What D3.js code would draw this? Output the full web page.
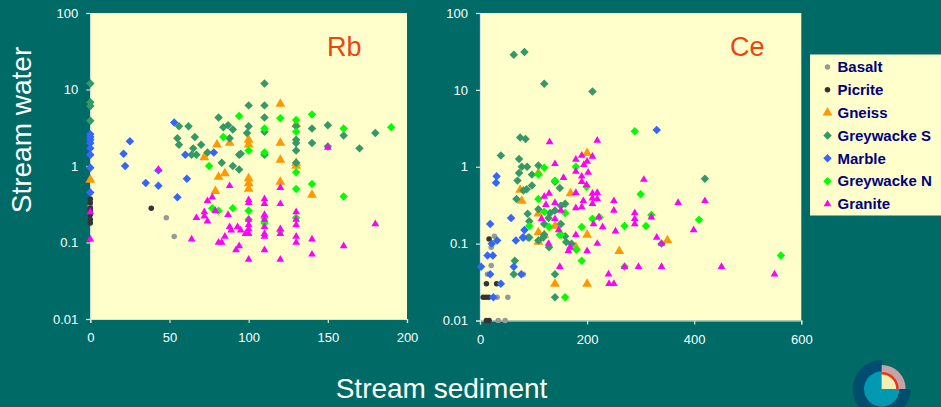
<!DOCTYPE html>
<html>
<head>
<meta charset="utf-8">
<script src="https://cdn.jsdelivr.net/npm/d3@7"></script>
<style>
html, body { margin: 0; padding: 0; background: #006b66; overflow: hidden; }
text { font-family: "Liberation Sans", Arial, sans-serif; }
</style>
</head>
<body>
<svg id="chart" width="941" height="407"></svg>
<script>
// Values, [stream sediment, stream water]
var rb_basalt = [[0,0.3],[48,0.21],[53,0.12]];
var rb_picrite = [[0,0.37],[0,0.33],[0,0.28],[0,0.26],[0,0.23],[0,0.2],[0,0.18],[38.5,0.28]];
var rb_gneiss = [[0,0.66],[72,1.3],[79,0.47],[80,1.9],[81,0.72],[85,0.8],[88,2],[100,2.2],[100,1.9],[100,0.69],[100,0.59],[100,0.5],
    [120,6.5],[120,2],[120,1.2],[120,0.62],[130,3.5],[130,1.1],[130,1],[140,0.42]];
var rb_greywacke_s = [[0,12],[0,6.8],[0,6.1],[0,3.9],[55,2.3],[56,3.3],[56,1.9],[62,3.3],[64,1.4],[65,1.7],[66,2.4],[67,1.4],[70,1.9],[74,1.5],
    [81,4.3],[83,1.1],[84,3.2],[87,3.4],[88,2.3],[90,3],[90,1],[94,1.4],[94,0.9],[95,1.45],[99,2.7],[100,6.2],[100,3.3],
    [110,12],[110,6.2],[110,4.3],[110,2.8],[110,1.4],[130,3.3],[130,2.2],[130,2],[130,1.6],[130,1.1],[140,3.1],[140,2],
    [150,3.4],[150,1.8],[160,2.5],[170,1.7],[180,2.7]];
var rb_marble = [[0,2.6],[0,2.4],[0,2.2],[0,2],[0,1.7],[0,1.4],[0,0.95],[0,0.45],[21,1.45],[22,1],[25,2.1],[35,0.6],[43,0.88],[43,0.55],
    [53,3.7],[55,0.39],[60,1.4],[61,0.68],[78,1.5]];
var rb_greywacke_n = [[75,1],[77,0.28],[81,0.26],[84,2.4],[90,0.28],[94,4.5],[100,1.6],[100,0.26],[100,0.2],[110,3.1],[110,1.5],[110,0.21],[110,0.18],
    [120,4.2],[120,0.14],[130,4],[130,2.8],[130,0.83],[130,0.5],[130,0.21],[140,4.7],[140,0.58],[160,3.1],[160,0.4],[190,3.2]];
var rb_granite = [[0,0.25],[0,0.11],[43,0.9],[64,0.11],[67,0.21],[72,0.25],[72,0.22],[74,0.35],[74,0.19],[77,0.39],[79,0.26],[81,0.1],[83,0.1],
    [85,0.12],[87,0.23],[88,0.55],[88,0.16],[89,0.145],[92,0.08],[93,0.16],[94,0.09],[95,0.145],[98,0.13],
    [100,0.36],[100,0.33],[100,0.2],[100,0.17],[100,0.15],[100,0.13],[100,0.06],[110,0.37],[110,0.32],[110,0.23],[110,0.2],[110,0.16],[110,0.13],[110,0.12],[110,0.08],
    [120,0.52],[120,0.32],[120,0.15],[120,0.13],[120,0.06],[130,0.25],[130,0.2],[130,0.17],[130,0.12],[130,0.1],[140,0.11],[140,0.07],[150,1.75],[160,0.09],[180,0.175]];

var ce_basalt = [[14,0.04],[21,0.09],[21,0.052],[27,0.125],[32,0.02],[34,0.01],[47,0.01],[52,0.02],[81,0.04]];
var ce_picrite = [[6,0.02],[11,0.02],[12,0.03],[12,0.01],[16,0.02],[17,0.115],[17,0.01],[31,0.03]];
var ce_gneiss = [[75,0.5],[78,0.36],[109,0.83],[109,0.245],[109,0.14],[109,0.105],[120,0.13],[140,0.17],[140,0.03],[169,0.45],[179,0.09],[200,1.5],[200,0.13],[200,0.03],[260,0.08],[350,0.11]];
var ce_greywacke_s = [[63,28.6],[83,31],[120,12],[210,9.5],[75,2.4],[85,2.3],[39,1.4],[73,1.26],[88,1],[78,1],[109,1.04],[73,0.83],[70,0.66],[97,0.79],[97,0.57],
    [87,0.51],[81,0.49],[68,0.38],[149,0.53],[140,0.64],[89,0.245],[109,0.28],[159,0.33],[151,0.31],[140,0.27],[131,0.25],[128,0.215],[92,0.195],[151,0.18],[120,0.18],
    [92,0.12],[118,0.12],[159,0.125],[65,0.06],[63,0.04],[140,0.04],[140,0.02],[129,0.09],[90,0.12],[120,0.13],[109,0.11],[161,0.105],[171,0.1],[339,0.1],[420,0.7]];
var ce_marble = [[2,0.05],[14,0.07],[19,0.18],[19,0.04],[22,0.1],[24,0.07],[25,0.02],[30,0.62],[31,0.75],[32,0.11],[39,0.03],[58,0.215],[63,0.05],[67,0.11],[77,0.04],[80,0.12],[81,0.12],[83,0.15],[330,3]];
var ce_greywacke_n = [[92,0.17],[109,0.79],[109,0.38],[120,0.97],[120,0.26],[129,0.165],[140,0.66],[149,0.13],[151,0.13],[159,0.25],[159,0.02],[179,1],[180,0.083],[190,0.165],[190,0.06],[199,0.55],
    [210,0.21],[223,0.22],[270,0.17],[270,0.05],[289,2.9],[300,0.44],[310,0.17],[320,0.235],[409,0.205],[562,0.07]];
var ce_granite = [[115,0.21],[120,0.41],[123,0.32],[128,0.1],[129,0.45],[130,2.1],[140,1.09],[140,0.34],[140,0.21],[147,0.15],[149,0.05],[151,0.27],[156,0.72],[165,0.08],[168,0.09],
    [179,1.24],[179,0.87],[179,0.46],[179,0.29],[179,0.13],[190,1.4],[190,0.75],[190,0.64],[190,0.3],[193,0.36],[194,1.06],[199,0.58],[200,1.17],[200,0.08],[202,0.84],[210,1.36],[210,0.45],[210,0.39],[210,0.33],[212,0.18],
    [219,2.2],[219,0.46],[219,0.38],[219,0.1],[222,0.22],[229,0.165],[240,0.04],[241,0.03],[250,0.36],[250,0.27],[250,0.03],[253,0.145],[270,0.05],[289,0.25],[289,0.21],[289,0.18],[296,0.05],[306,0.68],[320,0.22],[330,0.12],[339,0.1],[339,0.05],[370,0.34],[399,0.15],[420,0.36],[451,0.05],[550,0.04]];

var series_names = ['Basalt', 'Picrite', 'Gneiss', 'Greywacke S', 'Marble', 'Greywacke N', 'Granite'];
var series_colors = ['#999999', '#333333', '#ff9900', '#339966', '#3366ff', '#00ff00', '#ff00ff'];
var series_shapes = ['circle', 'circle', 'triangle', 'diamond', 'diamond', 'diamond', 'small_triangle'];
var rb_series = [rb_basalt, rb_picrite, rb_gneiss, rb_greywacke_s, rb_marble, rb_greywacke_n, rb_granite];
var ce_series = [ce_basalt, ce_picrite, ce_gneiss, ce_greywacke_s, ce_marble, ce_greywacke_n, ce_granite];
var y_ticks = [0.01, 0.1, 1, 10, 100];
var rb_x_ticks = [0, 50, 100, 150, 200];
var ce_x_ticks = [0, 200, 400, 600];

var svg = d3.select('#chart');

function shape_path(shape) {
    var types = { circle: d3.symbolCircle, triangle: d3.symbolTriangle, small_triangle: d3.symbolTriangle, diamond: d3.symbolSquare };
    var sizes = { circle: 24, triangle: 42, small_triangle: 26, diamond: 36 };
    return d3.symbol().type(types[shape]).size(sizes[shape])();
}

function draw_marks(group, shape, color, x, y) {
    group.attr('d', shape_path(shape))
        .attr('fill', color)
        .attr('transform', function (d) {
            var rotate = shape === 'diamond' ? ' rotate(45)' : '';
            return 'translate(' + x(d[0]) + ',' + y(d[1]) + ')' + rotate;
        });
}

function draw_panel(left, right, top, bottom, x_max, x_ticks, series, title, title_x) {
    var x = d3.scaleLinear().domain([0, x_max]).range([left, right]);
    var y = d3.scaleLog().domain([0.01, 100]).range([bottom, top]);

    svg.append('rect')
        .attr('x', left).attr('y', top)
        .attr('width', right - left).attr('height', bottom - top)
        .attr('fill', '#ffffcc');

    var x_axis = svg.append('g')
        .attr('transform', 'translate(0,' + bottom + ')')
        .call(d3.axisBottom(x).tickValues(x_ticks).tickFormat(d3.format('d')).tickSize(4).tickPadding(10));
    var y_axis = svg.append('g')
        .attr('transform', 'translate(' + left + ',0)')
        .call(d3.axisLeft(y).tickValues(y_ticks).tickFormat(function (d) { return String(d); }).tickSize(4).tickPadding(8));

    [x_axis, y_axis].forEach(function (axis) {
        axis.selectAll('.domain, .tick line').attr('stroke', '#d8e4dc').attr('stroke-width', 1.2);
        axis.selectAll('text').attr('fill', '#ffffff').style('font-size', '13px').style('font-family', '"Liberation Sans", Arial, sans-serif');
    });

    series.forEach(function (points, i) {
        svg.append('g').selectAll('path').data(points).enter().append('path')
            .call(draw_marks, series_shapes[i], series_colors[i], x, y);
    });

    svg.append('text')
        .attr('x', title_x).attr('y', 56)
        .attr('fill', '#ee4411')
        .style('font-size', '27px')
        .text(title);
}

draw_panel(90.3, 407, 13, 319, 200, rb_x_ticks, rb_series, 'Rb', 327);
draw_panel(480, 801.3, 13, 320.5, 600, ce_x_ticks, ce_series, 'Ce', 730);

// Shared axis titles
svg.append('text')
    .attr('transform', 'translate(31,130) rotate(-90)')
    .attr('text-anchor', 'middle')
    .attr('fill', '#ffffff')
    .style('font-size', '28px')
    .text('Stream water');
svg.append('text')
    .attr('x', 441.5).attr('y', 398)
    .attr('text-anchor', 'middle')
    .attr('fill', '#ffffff')
    .style('font-size', '28px')
    .text('Stream sediment');

// Legend
svg.append('rect')
    .attr('x', 810).attr('y', 54.5)
    .attr('width', 131).attr('height', 161)
    .attr('fill', '#ffffcc');
var legend_y = d3.scalePoint().domain(series_names).range([67, 204]);
var legend = svg.append('g').selectAll('g').data(series_names).enter().append('g')
    .attr('transform', function (d) { return 'translate(0,' + legend_y(d) + ')'; });
legend.append('path')
    .attr('d', function (d, i) { return shape_path(series_shapes[i]); })
    .attr('fill', function (d, i) { return series_colors[i]; })
    .attr('transform', function (d, i) {
        return 'translate(827.5,0)' + (series_shapes[i] === 'diamond' ? ' rotate(45)' : '');
    });
legend.append('text')
    .attr('x', 837.5).attr('dy', '0.35em')
    .attr('fill', '#000080')
    .style('font-size', '15px')
    .style('font-weight', 'bold')
    .text(function (d) { return d; });

// Logo, bottom right corner
var logo = svg.append('g').attr('transform', 'translate(881.7,389)');
var arc = d3.arc();
var half_pi = Math.PI / 2;
logo.append('path')
    .attr('d', arc({ innerRadius: 0, outerRadius: 29, startAngle: half_pi, endAngle: 2 * Math.PI }))
    .attr('fill', '#004d70');
logo.append('circle').attr('r', 17.7).attr('fill', '#0099b0');
logo.append('path')
    .attr('d', arc({ innerRadius: 0, outerRadius: 24, startAngle: 0, endAngle: half_pi }))
    .attr('fill', '#c4a4a8');
logo.append('path')
    .attr('d', arc({ innerRadius: 0, outerRadius: 17, startAngle: 0, endAngle: half_pi }))
    .attr('fill', '#ee3311');
logo.append('path')
    .attr('d', arc({ innerRadius: 0, outerRadius: 14.5, startAngle: 0, endAngle: half_pi }))
    .attr('fill', '#f2efb4');
</script>
</body>
</html>
